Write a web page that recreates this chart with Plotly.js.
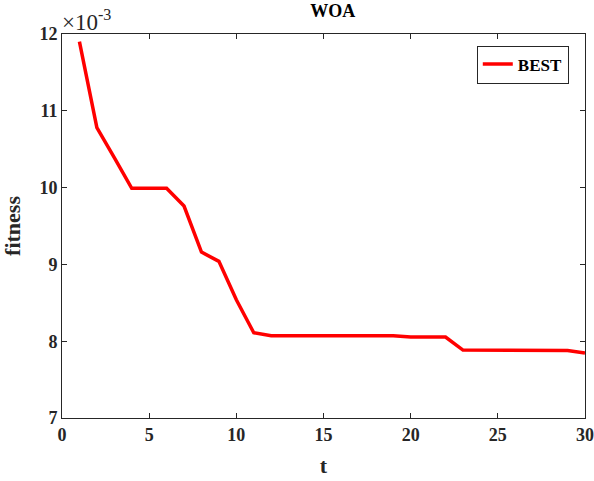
<!DOCTYPE html>
<html><head><meta charset="utf-8">
<script src="https://cdn.plot.ly/plotly-3.0.1.min.js"></script>
<style>html,body{margin:0;padding:0;background:#fff}#chart{width:594px;height:481px}</style>
</head><body><div id="chart"></div>
<script>
const t = [1,2,3,4,5,6,7,8,9,10,11,12,13,14,15,16,17,18,19,20,21,22,23,24,25,26,27,28,29,30];
const fitness = [11.90,10.78,10.39,9.99,9.99,9.99,9.76,9.16,9.04,8.54,8.11,8.07,8.07,8.07,8.07,8.07,8.07,8.07,8.07,8.055,8.055,8.055,7.885,7.885,7.885,7.885,7.885,7.885,7.88,7.845];
const xTicks = [0,5,10,15,20,25,30];
const yTicks = [7,8,9,10,11,12];
const seriesName = 'BEST';
const F = 'Liberation Serif, Times New Roman, serif';
const axisCommon = {
  showgrid:false, zeroline:false, showline:true, mirror:'ticks', linecolor:'#262626', linewidth:1,
  ticks:'inside', ticklen:5, tickcolor:'#262626',
  tickfont:{family:F,size:18,color:'#262626'}
};
Plotly.newPlot('chart',[{
  x:t, y:fitness, type:'scatter', mode:'lines', name:'<b>'+seriesName+'</b>',
  line:{color:'#ff0000',width:3.5}
}],{
  width:594,height:481,
  margin:{l:62,r:9,t:34,b:63},
  paper_bgcolor:'#fff',plot_bgcolor:'#fff',
  title:{text:'<b>WOA</b>',font:{family:F,size:18,color:'#000'},x:0.56,xanchor:'center',y:0.977,yanchor:'middle'},
  xaxis:Object.assign({},axisCommon,{range:[0,30],tickvals:xTicks,ticktext:xTicks.map(v=>'<b>'+v+'</b>'),
    title:{text:'<b>t</b>',font:{family:F,size:22,color:'#262626'},standoff:14}}),
  yaxis:Object.assign({},axisCommon,{range:[7,12],tickvals:yTicks,ticktext:yTicks.map(v=>'<b>'+v+'</b>'),
    title:{text:'<b>fitness</b>',font:{family:F,size:22,color:'#262626'},standoff:14}}),
  showlegend:true,
  legend:{x:0.969,xanchor:'right',y:0.97,yanchor:'top',bgcolor:'#fff',bordercolor:'#262626',borderwidth:1,
    font:{family:F,size:17,color:'#000'}},
  annotations:[{xref:'paper',yref:'paper',x:0,y:1,xanchor:'left',yanchor:'bottom',showarrow:false,
    text:'×10<sup>-3</sup>',font:{family:F,size:23,color:'#262626'},yshift:-3,xshift:-2}]
},{displayModeBar:false,staticPlot:true});
</script></body></html>
